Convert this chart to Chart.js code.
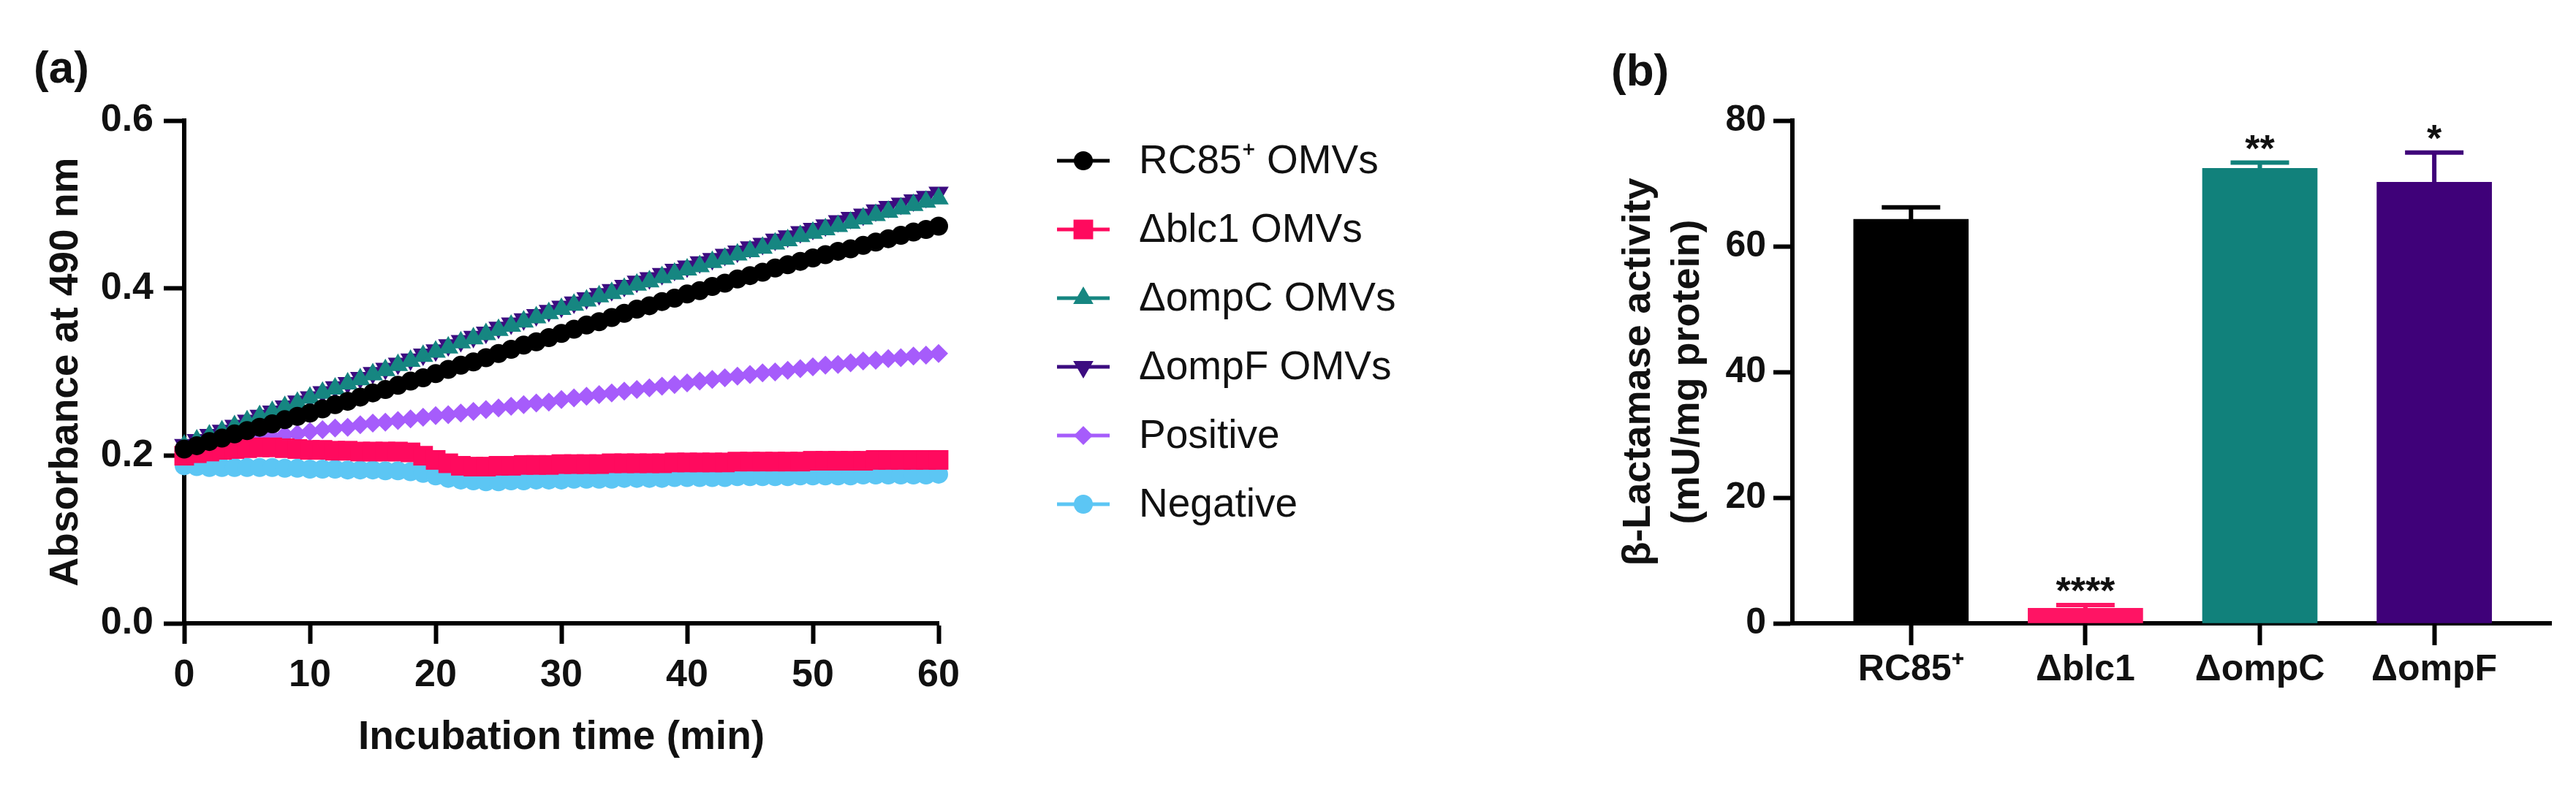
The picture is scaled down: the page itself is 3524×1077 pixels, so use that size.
<!DOCTYPE html>
<html>
<head>
<meta charset="utf-8">
<title>OMV beta-lactamase activity</title>
<script src="https://cdn.jsdelivr.net/npm/chart.js@4.4.1/dist/chart.umd.min.js"></script>
<style>
  html, body { margin: 0; padding: 0; background: #fff; }
  body { width: 3524px; height: 1077px; position: relative; overflow: hidden; font-family: "Liberation Sans", Arial, sans-serif; }
  canvas { position: absolute; top: 0; }
  #absChart { left: 0; }
  #activityChart { left: 2100px; }
  .panelTag { position: absolute; font-weight: bold; font-size: 62px; line-height: 1; color: #111; }
</style>
</head>
<body>
<div class="panelTag" style="left:46px; top:61px;">(a)</div>
<div class="panelTag" style="left:2204px; top:65px;">(b)</div>
<canvas id="absChart" width="2100" height="1077"></canvas>
<canvas id="activityChart" width="1424" height="1077"></canvas>
<script>
// (a) absorbance at 490 nm, one reading per minute
const times = [0,1,2,3,4,5,6,7,8,9,10,11,12,13,14,15,16,17,18,19,20,21,22,23,24,25,26,27,28,29,30,
  31,32,33,34,35,36,37,38,39,40,41,42,43,44,45,46,47,48,49,50,51,52,53,54,55,56,57,58,59,60];

const rc85Abs = [0.208,0.212,0.217,0.221,0.226,0.230,0.234,0.238,0.243,0.247,
  0.251,0.256,0.261,0.265,0.270,0.275,0.279,0.284,0.289,0.293,
  0.298,0.303,0.308,0.312,0.317,0.322,0.327,0.332,0.336,0.341,
  0.346,0.351,0.356,0.360,0.365,0.370,0.375,0.379,0.384,0.388,
  0.393,0.397,0.402,0.406,0.411,0.415,0.419,0.424,0.428,0.432,
  0.436,0.440,0.444,0.447,0.451,0.455,0.459,0.463,0.467,0.470,
  0.474];
const blc1Abs = [0.200,0.203,0.205,0.207,0.208,0.209,0.210,0.210,0.209,0.208,
  0.207,0.207,0.206,0.206,0.205,0.205,0.205,0.205,0.204,0.200,
  0.195,0.191,0.188,0.187,0.187,0.188,0.188,0.189,0.189,0.189,
  0.190,0.190,0.190,0.190,0.191,0.191,0.191,0.191,0.191,0.192,
  0.192,0.192,0.192,0.192,0.193,0.193,0.193,0.193,0.193,0.193,
  0.194,0.194,0.194,0.194,0.194,0.195,0.195,0.195,0.195,0.195,
  0.195];
const ompCAbs = [0.212,0.218,0.224,0.229,0.235,0.241,0.247,0.252,0.258,0.263,
  0.269,0.275,0.280,0.286,0.291,0.297,0.302,0.308,0.313,0.319,
  0.324,0.329,0.335,0.340,0.345,0.350,0.355,0.360,0.365,0.370,
  0.375,0.380,0.385,0.390,0.394,0.399,0.404,0.408,0.413,0.417,
  0.422,0.426,0.431,0.435,0.440,0.444,0.448,0.453,0.457,0.462,
  0.466,0.470,0.474,0.478,0.483,0.487,0.491,0.495,0.499,0.503,
  0.507];
const ompFAbs = [0.213,0.219,0.225,0.230,0.236,0.242,0.248,0.253,0.259,0.265,
  0.270,0.276,0.282,0.287,0.293,0.299,0.304,0.310,0.315,0.321,
  0.326,0.332,0.337,0.342,0.347,0.353,0.358,0.363,0.368,0.373,
  0.378,0.383,0.388,0.393,0.398,0.403,0.408,0.412,0.417,0.422,
  0.426,0.431,0.435,0.440,0.444,0.449,0.453,0.458,0.462,0.467,
  0.471,0.475,0.480,0.484,0.488,0.493,0.497,0.501,0.505,0.509,
  0.514];
const positiveAbs = [0.205,0.207,0.210,0.213,0.215,0.218,0.221,0.222,0.225,0.226,
  0.229,0.231,0.233,0.234,0.237,0.239,0.240,0.242,0.244,0.246,
  0.248,0.249,0.251,0.253,0.255,0.257,0.259,0.261,0.263,0.264,
  0.267,0.269,0.271,0.273,0.275,0.277,0.279,0.281,0.283,0.285,
  0.287,0.289,0.291,0.293,0.295,0.297,0.299,0.300,0.302,0.304,
  0.306,0.308,0.309,0.311,0.313,0.314,0.316,0.317,0.319,0.320,
  0.322];
const negativeAbs = [0.188,0.187,0.186,0.186,0.186,0.186,0.186,0.186,0.185,0.185,
  0.184,0.184,0.184,0.183,0.183,0.183,0.182,0.182,0.181,0.179,
  0.176,0.173,0.171,0.170,0.169,0.169,0.170,0.170,0.171,0.171,
  0.171,0.172,0.172,0.172,0.172,0.173,0.173,0.173,0.173,0.174,
  0.174,0.174,0.174,0.174,0.175,0.175,0.175,0.175,0.175,0.176,
  0.176,0.176,0.176,0.176,0.177,0.177,0.177,0.177,0.177,0.177,
  0.178];

const seriesLabels = ['RC85⁺ OMVs', 'Δblc1 OMVs', 'ΔompC OMVs', 'ΔompF OMVs', 'Positive', 'Negative'];
const absTicksX = [0, 10, 20, 30, 40, 50, 60];
const absTicksY = [0, 0.2, 0.4, 0.6];

// (b) activity bars
const barLabels = ['RC85⁺', 'Δblc1', 'ΔompC', 'ΔompF'];
const barValues = [64.3, 2.4, 72.4, 70.2];
const barErrors = [1.9, 0.5, 0.9, 4.7];
const barStars = ['', '****', '**', '*'];
const barTicksY = [0, 20, 40, 60, 80];

const seriesColors = ['#000000', '#ff0a5e', '#168681', '#3c0c80', '#a65cfb', '#5cc6f4'];
const seriesMarkers = ['circle', 'rect', 'triangle', 'triangle', 'rectRot', 'circle'];
const markerRotation = [0, 0, 0, 180, 0, 0];
const markerRadius = [13, 19, 16, 16, 13, 13];
const barColors = ['#000000', '#ff1464', '#11817b', '#3f0179'];

const FONT = '"Liberation Sans", Arial, sans-serif';
Chart.defaults.font.family = FONT;
Chart.defaults.color = '#111';

// legend with line + marker, drawn to the right of panel (a)
const sideLegend = {
  id: 'sideLegend',
  afterDraw(chart) {
    const ctx = chart.ctx;
    chart.data.datasets.forEach((ds, i) => {
      const y = 220 + i * 94;
      ctx.save();
      ctx.strokeStyle = ds.borderColor;
      ctx.lineWidth = 5;
      ctx.beginPath();
      ctx.moveTo(1446, y);
      ctx.lineTo(1518, y);
      ctx.stroke();
      ctx.fillStyle = ds.backgroundColor;
      Chart.helpers.drawPoint(ctx, {
        pointStyle: ds.pointStyle,
        rotation: ds.pointRotation,
        radius: ds.pointRadius,
        borderWidth: 0
      }, 1482, y);
      ctx.fillStyle = '#111';
      ctx.font = '55px ' + FONT;
      ctx.textAlign = 'left';
      ctx.textBaseline = 'middle';
      ctx.fillText(ds.label, 1558, y + 2);
      ctx.restore();
    });
  }
};

const absSeries = [rc85Abs, blc1Abs, ompCAbs, ompFAbs, positiveAbs, negativeAbs];

new Chart(document.getElementById('absChart'), {
  type: 'line',
  data: {
    datasets: absSeries.map((vals, i) => ({
      label: seriesLabels[i],
      data: times.map((t, j) => ({ x: t, y: vals[j] })),
      borderColor: seriesColors[i],
      backgroundColor: seriesColors[i],
      borderWidth: 3,
      pointStyle: seriesMarkers[i],
      pointRotation: markerRotation[i],
      pointRadius: markerRadius[i],
      pointBorderWidth: 0,
      pointBackgroundColor: seriesColors[i],
      clip: false
    }))
  },
  options: {
    responsive: false,
    animation: false,
    layout: { padding: { top: 165, right: 816, bottom: 0, left: 0 } },
    plugins: { legend: { display: false }, tooltip: { enabled: false } },
    scales: {
      x: {
        type: 'linear', min: 0, max: 60,
        afterBuildTicks: (s) => { s.ticks = absTicksX.map(v => ({ value: v })); },
        afterFit: (s) => { s.height = 224; },
        grid: { drawOnChartArea: false, tickLength: 28, tickWidth: 6, tickColor: '#000' },
        border: { display: true, width: 6, color: '#000' },
        ticks: { font: { size: 52, weight: 'bold' }, padding: 12, maxRotation: 0 },
        title: { display: true, text: 'Incubation time (min)', font: { size: 55, weight: 'bold' }, padding: { top: 0, bottom: 34 } }
      },
      y: {
        type: 'linear', min: 0, max: 0.6,
        afterBuildTicks: (s) => { s.ticks = absTicksY.map(v => ({ value: v })); },
        afterFit: (s) => { s.width = 252; },
        grid: { drawOnChartArea: false, tickLength: 28, tickWidth: 6, tickColor: '#000' },
        border: { display: true, width: 6, color: '#000' },
        ticks: { font: { size: 52, weight: 'bold' }, padding: 14, callback: (v) => v.toFixed(1) },
        title: { display: true, text: 'Absorbance at 490 nm', font: { size: 55, weight: 'bold' }, padding: { top: 58, bottom: 0 } }
      }
    }
  },
  plugins: [sideLegend]
});

// error bars and significance stars on top of each bar
const errorBars = {
  id: 'errorBars',
  afterDatasetsDraw(chart) {
    const ctx = chart.ctx;
    const yScale = chart.scales.y;
    chart.getDatasetMeta(0).data.forEach((bar, i) => {
      const top = yScale.getPixelForValue(barValues[i] + barErrors[i]);
      ctx.save();
      ctx.strokeStyle = barColors[i];
      ctx.lineWidth = 6;
      ctx.beginPath();
      ctx.moveTo(bar.x, bar.y);
      ctx.lineTo(bar.x, top);
      ctx.moveTo(bar.x - 40, top);
      ctx.lineTo(bar.x + 40, top);
      ctx.stroke();
      if (barStars[i]) {
        ctx.fillStyle = '#111';
        ctx.font = 'bold 52px ' + FONT;
        ctx.textAlign = 'center';
        ctx.textBaseline = 'alphabetic';
        ctx.fillText(barStars[i], bar.x, top - 2);
      }
      ctx.restore();
    });
  }
};

new Chart(document.getElementById('activityChart'), {
  type: 'bar',
  data: {
    datasets: [{
      data: barValues.map((v, i) => ({ x: i, y: v })),
      backgroundColor: barColors,
      borderWidth: 0,
      barThickness: 157
    }]
  },
  options: {
    responsive: false,
    animation: false,
    layout: { padding: { top: 165, right: 34, bottom: 0, left: 0 } },
    plugins: { legend: { display: false }, tooltip: { enabled: false } },
    scales: {
      x: {
        type: 'linear', min: -0.68, max: 3.67, offset: false,
        afterBuildTicks: (s) => { s.ticks = barLabels.map((l, i) => ({ value: i })); },
        afterFit: (s) => { s.height = 224; },
        grid: { offset: false, drawOnChartArea: false, tickLength: 30, tickWidth: 6, tickColor: '#000' },
        border: { display: true, width: 6, color: '#000' },
        ticks: { font: { size: 50, weight: 'bold' }, padding: 4, maxRotation: 0, autoSkip: false,
          callback: (v) => barLabels[v] ?? '' }
      },
      y: {
        type: 'linear', min: 0, max: 80,
        afterBuildTicks: (s) => { s.ticks = barTicksY.map(v => ({ value: v })); },
        afterFit: (s) => { s.width = 352; },
        grid: { drawOnChartArea: false, tickLength: 26, tickWidth: 6, tickColor: '#000' },
        border: { display: true, width: 6, color: '#000' },
        ticks: { font: { size: 50, weight: 'bold' }, padding: 10 },
        title: { display: true, text: ['β-Lactamase activity', '(mU/mg protein)'],
          font: { size: 54, weight: 'bold', lineHeight: 1.25 }, padding: { top: 108, bottom: 0 } }
      }
    }
  },
  plugins: [errorBars]
});
</script>
</body>
</html>
